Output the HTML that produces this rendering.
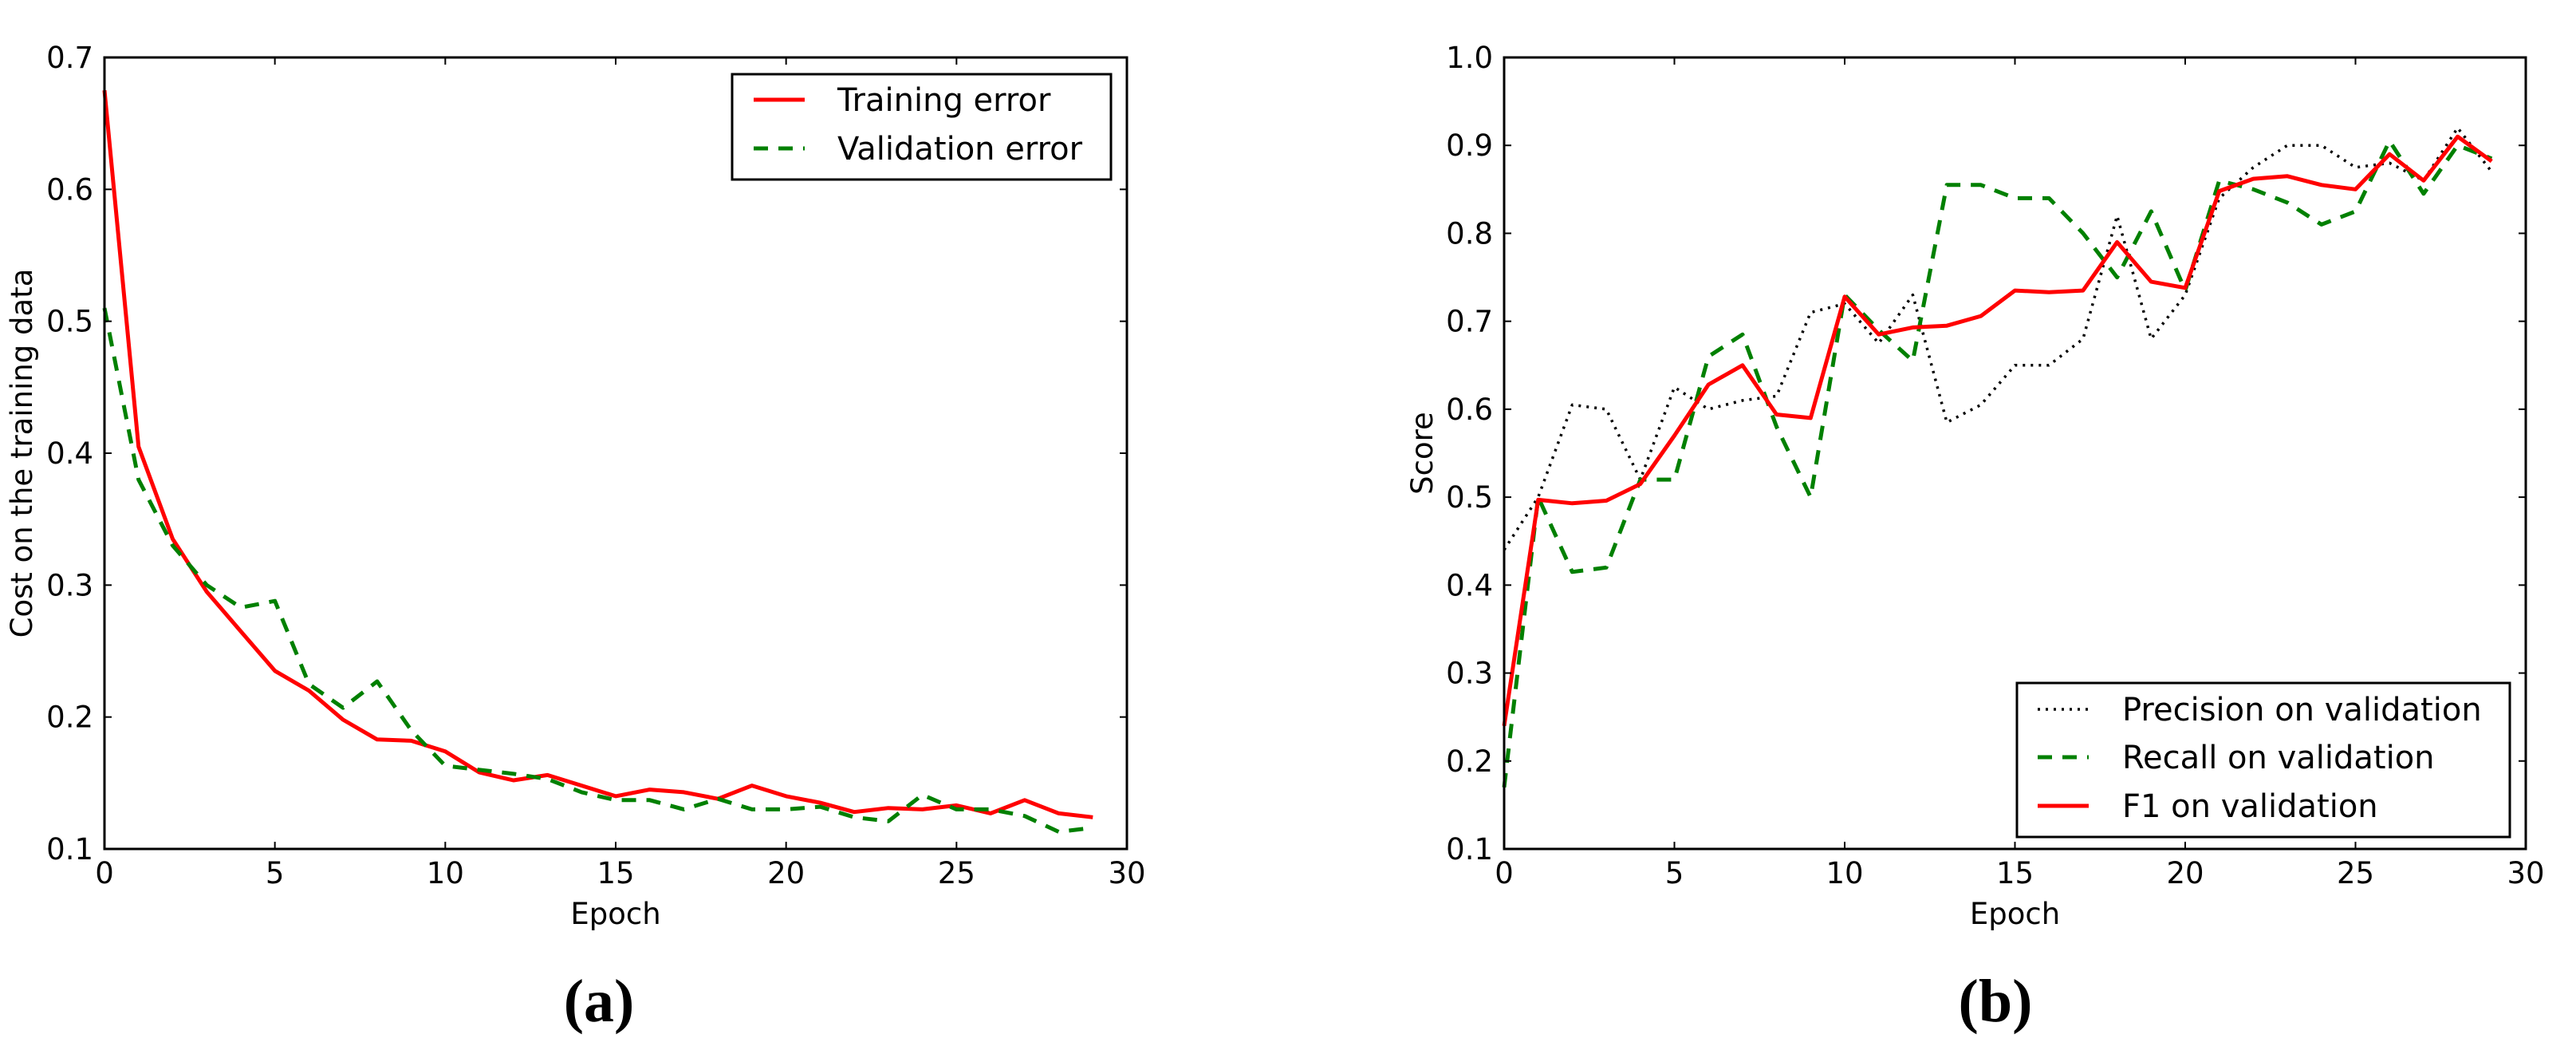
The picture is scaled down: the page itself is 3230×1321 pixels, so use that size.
<!DOCTYPE html>
<html><head><meta charset="utf-8"><style>
html,body{margin:0;padding:0;background:#fff;}
svg{display:block;}
text{font-family:"DejaVu Sans","Liberation Sans",sans-serif;fill:#000;}
</style></head>
<body>
<svg id="fig" width="3230" height="1321" viewBox="0 0 3230 1321" xmlns="http://www.w3.org/2000/svg"></svg>
<script>
const epochs = [0,1,2,3,4,5,6,7,8,9,10,11,12,13,14,15,16,17,18,19,20,21,22,23,24,25,26,27,28,29];
const trainErr = [0.675,0.405,0.335,0.295,0.265,0.235,0.22,0.198,0.183,0.182,0.174,0.158,0.152,0.156,0.148,0.14,0.145,0.143,0.138,0.148,0.14,0.135,0.128,0.131,0.13,0.133,0.127,0.137,0.127,0.124];
const valErr = [0.51,0.38,0.33,0.30,0.283,0.288,0.225,0.207,0.227,0.19,0.163,0.16,0.157,0.153,0.143,0.137,0.137,0.13,0.138,0.13,0.13,0.132,0.124,0.121,0.141,0.13,0.13,0.125,0.113,0.116];
const precision = [0.44,0.5,0.605,0.6,0.52,0.625,0.6,0.61,0.615,0.71,0.72,0.675,0.73,0.585,0.605,0.65,0.65,0.68,0.82,0.68,0.73,0.84,0.875,0.9,0.9,0.875,0.88,0.86,0.92,0.87];
const recall = [0.17,0.5,0.415,0.42,0.52,0.52,0.66,0.685,0.58,0.5,0.73,0.69,0.655,0.855,0.855,0.84,0.84,0.8,0.75,0.825,0.735,0.86,0.85,0.835,0.81,0.825,0.905,0.845,0.9,0.885];
const f1 = [0.24,0.497,0.493,0.496,0.515,0.57,0.628,0.65,0.594,0.59,0.728,0.685,0.693,0.695,0.706,0.735,0.733,0.735,0.79,0.745,0.738,0.848,0.862,0.865,0.855,0.85,0.89,0.86,0.91,0.882];
const xTicks = [0,5,10,15,20,25,30];
const yTicksA = ["0.1","0.2","0.3","0.4","0.5","0.6","0.7"];
const yTicksB = ["0.1","0.2","0.3","0.4","0.5","0.6","0.7","0.8","0.9","1.0"];

const NS="http://www.w3.org/2000/svg";
const svg=document.getElementById('fig');
function mk(tag,attrs,parent){const e=document.createElementNS(NS,tag);for(const k in attrs)e.setAttribute(k,attrs[k]);(parent||svg).appendChild(e);return e;}

function panel(cfg){
  const g=mk('g',{});
  
  
  const {x0,x1,y0,y1,ymin,ymax}=cfg;
  const sx=v=>x0+(v-0)/(30-0)*(x1-x0);
  const sy=v=>y1-(v-ymin)/(ymax-ymin)*(y1-y0);
  cfg.series.forEach(s=>{
    const d=s.values.map((v,i)=>(i?'L':'M')+sx(epochs[i]).toFixed(1)+','+sy(v).toFixed(1)).join(' ');
    const p=mk('path',{d:d,fill:'none',stroke:s.color,'stroke-width':s.w,'stroke-dasharray':s.dash||'none','stroke-linejoin':'round'},g);
    
    
  });
  xTicks.forEach(t=>{
    const x=sx(t);
    mk('line',{x1:x,y1:y1,x2:x,y2:y1-9,stroke:'#000','stroke-width':2},g);
    mk('line',{x1:x,y1:y0,x2:x,y2:y0+9,stroke:'#000','stroke-width':2},g);
    const tl=mk('text',{x:x,y:y1+43,'font-size':37,'text-anchor':'middle'},g);
    tl.textContent=t;
    
    
  });
  cfg.yTicks.forEach(t=>{
    const y=sy(parseFloat(t));
    mk('line',{x1:x0,y1:y,x2:x0+9,y2:y,stroke:'#000','stroke-width':2},g);
    mk('line',{x1:x1,y1:y,x2:x1-9,y2:y,stroke:'#000','stroke-width':2},g);
    const tl=mk('text',{x:x0-14,y:y+13,'font-size':37,'text-anchor':'end'},g);
    tl.textContent=t;
    
    
  });
  const fr=mk('rect',{x:x0,y:y0,width:x1-x0,height:y1-y0,fill:'none',stroke:'#000','stroke-width':3},g);
  
  
  const xl=mk('text',{x:(x0+x1)/2,y:1158,'font-size':37,'text-anchor':'middle'},g);
  xl.textContent='Epoch';
  
  
  const yl=mk('text',{x:0,y:0,'font-size':37,'text-anchor':'middle',transform:`translate(${cfg.ylx},${(y0+y1)/2}) rotate(-90)`},g);
  yl.textContent=cfg.ylabel;
  
  
  const L=cfg.legend;
  const lg=mk('g',{},g);
  
  
  mk('rect',{x:L.x,y:L.y,width:L.w,height:L.h,fill:'#fff',stroke:'#000','stroke-width':3},lg);
  cfg.series.forEach((s,i)=>{
    const y=L.rows[i];
    mk('line',{x1:L.sx,y1:y,x2:L.sx+64,y2:y,stroke:s.color,'stroke-width':s.w,'stroke-dasharray':s.dash||'none'},lg);
    const t=mk('text',{x:L.tx,y:y+14,'font-size':40},lg);
    t.textContent=s.label;
    
    
  });
  const c=mk('text',{x:cfg.capx,y:1280,'font-size':76,'text-anchor':'middle','font-weight':'bold',style:'font-family:"Liberation Serif",serif'},g);
  c.textContent=cfg.caption;
  
  
}

panel({name:'chart-a',x0:131,x1:1413,y0:72,y1:1064,ymin:0.1,ymax:0.7,yTicks:yTicksA,ylabel:'Cost on the training data',ylx:40,caption:'(a)',capx:751,
  series:[
    {name:'training-error-line',label:'Training error',values:trainErr,color:'#ff0000',w:5},
    {name:'validation-error-line',label:'Validation error',values:valErr,color:'#008000',w:5,dash:'18,13'}
  ],
  legend:{x:918,y:93,w:475,h:132,rows:[125,186],sx:945,tx:1050}});

panel({name:'chart-b',x0:1886,x1:3167,y0:72,y1:1064,ymin:0.1,ymax:1.0,yTicks:yTicksB,ylabel:'Score',ylx:1796,caption:'(b)',capx:2502,
  series:[
    {name:'precision-line',label:'Precision on validation',values:precision,color:'#000000',w:3.5,dash:'3,7'},
    {name:'recall-line',label:'Recall on validation',values:recall,color:'#008000',w:5,dash:'18,13'},
    {name:'f1-line',label:'F1 on validation',values:f1,color:'#ff0000',w:5}
  ],
  legend:{x:2529,y:856,w:618,h:193,rows:[889,949,1010],sx:2555,tx:2661}});
</script>
</body></html>
